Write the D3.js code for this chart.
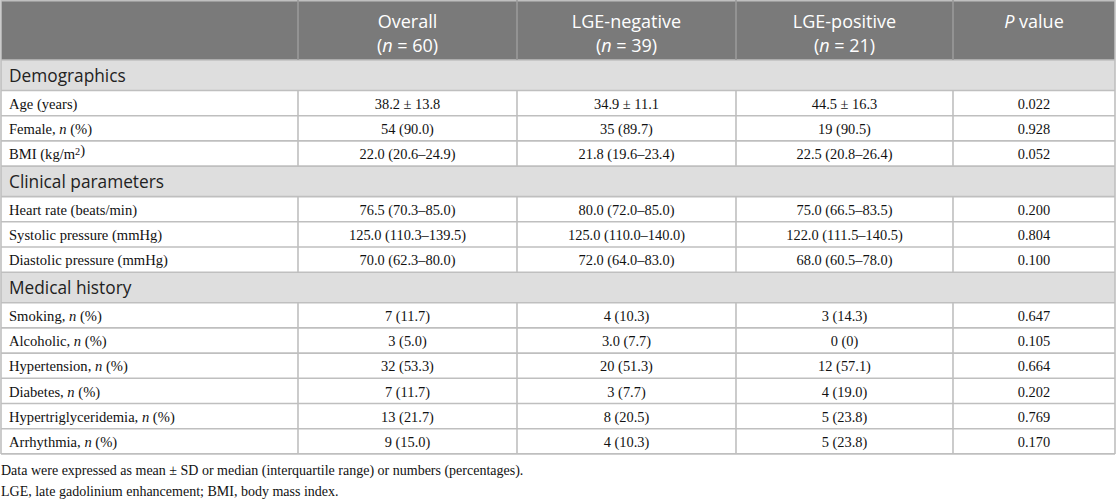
<!DOCTYPE html>
<html>
<head>
<meta charset="utf-8">
<script src="https://cdnjs.cloudflare.com/ajax/libs/d3/7.8.5/d3.min.js"></script>
<style>
    body { margin: 0; background: #fff; }
    svg { display: block; }
</style>
</head>
<body>
<script>
    // column headers (two lines each); <i> = italic, <sup> = superscript
    const headers = [
        ['', ''],
        ['Overall', '(<i>n</i> = 60)'],
        ['LGE-negative', '(<i>n</i> = 39)'],
        ['LGE-positive', '(<i>n</i> = 21)'],
        ['<i>P</i> value', '']
    ];

    const sections = ['Demographics', 'Clinical parameters', 'Medical history'];
    // which section each variable row belongs to
    const sectionOf = [0, 0, 0, 1, 1, 1, 2, 2, 2, 2, 2, 2];

    const variables = [
        'Age (years)',
        'Female, <i>n</i> (%)',
        'BMI (kg/m<sup>2</sup>)',
        'Heart rate (beats/min)',
        'Systolic pressure (mmHg)',
        'Diastolic pressure (mmHg)',
        'Smoking, <i>n</i> (%)',
        'Alcoholic, <i>n</i> (%)',
        'Hypertension, <i>n</i> (%)',
        'Diabetes, <i>n</i> (%)',
        'Hypertriglyceridemia, <i>n</i> (%)',
        'Arrhythmia, <i>n</i> (%)'
    ];

    const overall = [
        '38.2 ± 13.8', '54 (90.0)', '22.0 (20.6–24.9)',
        '76.5 (70.3–85.0)', '125.0 (110.3–139.5)', '70.0 (62.3–80.0)',
        '7 (11.7)', '3 (5.0)', '32 (53.3)', '7 (11.7)', '13 (21.7)', '9 (15.0)'
    ];
    const lgeNegative = [
        '34.9 ± 11.1', '35 (89.7)', '21.8 (19.6–23.4)',
        '80.0 (72.0–85.0)', '125.0 (110.0–140.0)', '72.0 (64.0–83.0)',
        '4 (10.3)', '3.0 (7.7)', '20 (51.3)', '3 (7.7)', '8 (20.5)', '4 (10.3)'
    ];
    const lgePositive = [
        '44.5 ± 16.3', '19 (90.5)', '22.5 (20.8–26.4)',
        '75.0 (66.5–83.5)', '122.0 (111.5–140.5)', '68.0 (60.5–78.0)',
        '3 (14.3)', '0 (0)', '12 (57.1)', '4 (19.0)', '5 (23.8)', '5 (23.8)'
    ];
    const pValues = [
        '0.022', '0.928', '0.052',
        '0.200', '0.804', '0.100',
        '0.647', '0.105', '0.664', '0.202', '0.769', '0.170'
    ];

    const footnotes = [
        'Data were expressed as mean ± SD or median (interquartile range) or numbers (percentages).',
        'LGE, late gadolinium enhancement; BMI, body mass index.'
    ];

    // ---- layout ----
    const width = 1116, height = 503;
    const colEdges = [1, 298, 517, 736, 953, 1115];
    const headerH = 60, sectionH = 30.5, rowH = 25.2;
    const lineColor = '#bfbfbf';
    const serif = '"Liberation Serif", "Times New Roman", serif';
    const sans = '"Open Sans", "Noto Sans", sans-serif';

    const colX = d3.scaleOrdinal().domain(d3.range(colEdges.length)).range(colEdges);

    // flatten into section rows + data rows
    const rows = [];
    variables.forEach((v, i) => {
        if (i === 0 || sectionOf[i] !== sectionOf[i - 1]) {
            rows.push({ type: 'section', label: sections[sectionOf[i]] });
        }
        rows.push({ type: 'data', cells: [v, overall[i], lgeNegative[i], lgePositive[i], pValues[i]] });
    });
    const heights = rows.map(r => r.type === 'section' ? sectionH : rowH);
    const tops = [headerH, ...d3.cumsum(heights).map(h => headerH + h)];
    rows.forEach((r, i) => { r.y0 = tops[i]; r.y1 = tops[i + 1]; });
    const tableBottom = tops[tops.length - 1];

    const svg = d3.select('body').append('svg')
        .attr('width', width)
        .attr('height', height);

    // rich text into tspans
    function rich(sel, str) {
        const parts = str.split(/(<i>.*?<\/i>|<sup>.*?<\/sup>)/).filter(s => s.length);
        parts.forEach(p => {
            if (p.startsWith('<i>')) {
                sel.append('tspan').attr('font-style', 'italic').text(p.slice(3, -4));
            } else if (p.startsWith('<sup>')) {
                sel.append('tspan').attr('font-size', '0.7em').attr('dy', '-0.45em').text(p.slice(5, -6));
                sel.append('tspan').attr('dy', '0.32em').text('');
            } else {
                sel.append('tspan').text(p);
            }
        });
    }

    // header background
    svg.append('rect')
        .attr('x', colX(0)).attr('y', 0)
        .attr('width', colX(5) - colX(0)).attr('height', headerH)
        .attr('fill', '#7a7a7a');

    // section backgrounds
    svg.selectAll('.sec-bg')
        .data(rows.filter(r => r.type === 'section'))
        .enter().append('rect')
        .attr('class', 'sec-bg')
        .attr('x', colX(0)).attr('y', d => d.y0)
        .attr('width', colX(5) - colX(0)).attr('height', d => d.y1 - d.y0)
        .attr('fill', '#dedede');

    // horizontal lines
    svg.selectAll('.hline')
        .data(tops)
        .enter().append('line')
        .attr('class', 'hline')
        .attr('x1', colX(0)).attr('x2', colX(5))
        .attr('y1', d => d).attr('y2', d => d)
        .attr('stroke', lineColor).attr('stroke-width', 1.6);

    // outer border top
    svg.append('line')
        .attr('x1', colX(0)).attr('x2', colX(5))
        .attr('y1', 0.8).attr('y2', 0.8)
        .attr('stroke', lineColor).attr('stroke-width', 1.6);

    // vertical lines: outer edges full height, inner lines skip section rows
    [0, 5].forEach(c => {
        svg.append('line')
            .attr('x1', colX(c)).attr('x2', colX(c))
            .attr('y1', 0).attr('y2', tableBottom)
            .attr('stroke', lineColor).attr('stroke-width', 1.6);
    });
    [1, 2, 3, 4].forEach(c => {
        svg.append('line')
            .attr('x1', colX(c)).attr('x2', colX(c))
            .attr('y1', 0).attr('y2', headerH)
            .attr('stroke', '#9a9a9a').attr('stroke-width', 1.6);
        svg.selectAll(null)
            .data(rows.filter(r => r.type === 'data'))
            .enter().append('line')
            .attr('x1', colX(c)).attr('x2', colX(c))
            .attr('y1', d => d.y0).attr('y2', d => d.y1)
            .attr('stroke', lineColor).attr('stroke-width', 1.6);
    });

    // header text
    headers.forEach((h, c) => {
        const cx = (colX(c) + colX(c + 1)) / 2;
        h.forEach((line, k) => {
            if (!line) return;
            const t = svg.append('text')
                .attr('x', cx)
                .attr('y', 28 + k * 24)
                .attr('text-anchor', 'middle')
                .attr('font-family', sans)
                .attr('font-size', 18)
                .attr('fill', '#fff');
            rich(t, line);
        });
    });

    // section labels
    svg.selectAll('.sec-label')
        .data(rows.filter(r => r.type === 'section'))
        .enter().append('text')
        .attr('class', 'sec-label')
        .attr('x', 9)
        .attr('y', d => d.y1 - 9)
        .attr('font-family', sans)
        .attr('font-size', 17.3)
        .attr('fill', '#222')
        .text(d => d.label);

    // data cells
    rows.filter(r => r.type === 'data').forEach(r => {
        r.cells.forEach((cell, c) => {
            const t = svg.append('text')
                .attr('x', c === 0 ? 9 : (colX(c) + colX(c + 1)) / 2)
                .attr('y', r.y1 - 7)
                .attr('text-anchor', c === 0 ? 'start' : 'middle')
                .attr('font-family', serif)
                .attr('font-size', c === 0 ? 14.6 : 14.4)
                .attr('fill', '#111');
            rich(t, cell);
        });
    });

    // footnotes
    svg.selectAll('.foot')
        .data(footnotes)
        .enter().append('text')
        .attr('class', 'foot')
        .attr('x', 1)
        .attr('y', (d, i) => 475 + i * 20.5)
        .attr('font-family', serif)
        .attr('font-size', 14)
        .attr('fill', '#111')
        .text(d => d);
</script>
</body>
</html>
